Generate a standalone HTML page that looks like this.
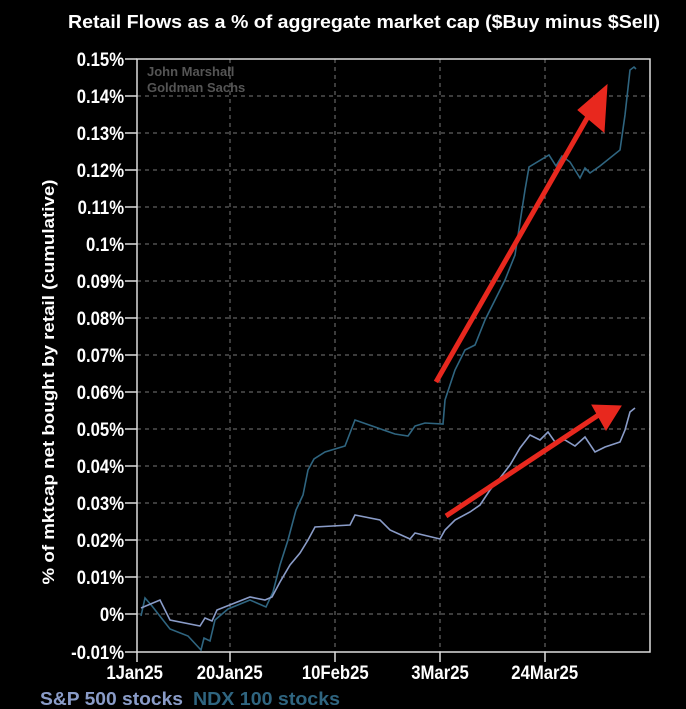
<!DOCTYPE html>
<html><head><meta charset="utf-8"><style>
html,body{margin:0;padding:0;background:#000;}
svg{display:block;font-family:"Liberation Sans",Arial,sans-serif;}
</style></head><body>
<svg width="686" height="709" viewBox="0 0 686 709" xmlns="http://www.w3.org/2000/svg">
<rect width="686" height="709" fill="#000"/>
<text x="68" y="28" fill="#fff" font-size="18" font-weight="bold" textLength="592" lengthAdjust="spacingAndGlyphs">Retail Flows as a % of aggregate market cap ($Buy minus $Sell)</text>
<g stroke="#777" stroke-width="1" stroke-dasharray="4,4">
<line x1="137" y1="96" x2="650" y2="96"/><line x1="137" y1="133" x2="650" y2="133"/><line x1="137" y1="170" x2="650" y2="170"/><line x1="137" y1="207" x2="650" y2="207"/><line x1="137" y1="244" x2="650" y2="244"/><line x1="137" y1="281" x2="650" y2="281"/><line x1="137" y1="318" x2="650" y2="318"/><line x1="137" y1="355" x2="650" y2="355"/><line x1="137" y1="392" x2="650" y2="392"/><line x1="137" y1="429" x2="650" y2="429"/><line x1="137" y1="466" x2="650" y2="466"/><line x1="137" y1="503" x2="650" y2="503"/><line x1="137" y1="540" x2="650" y2="540"/><line x1="137" y1="577" x2="650" y2="577"/><line x1="137" y1="614" x2="650" y2="614"/>
<line x1="230" y1="59" x2="230" y2="652"/><line x1="335" y1="59" x2="335" y2="652"/><line x1="440" y1="59" x2="440" y2="652"/><line x1="545" y1="59" x2="545" y2="652"/>
</g>
<rect x="137" y="59" width="513" height="593" fill="none" stroke="#ddd" stroke-width="1.5"/>
<g stroke="#ddd" stroke-width="1.5">
<line x1="125" y1="59" x2="137" y2="59"/><line x1="125" y1="96" x2="137" y2="96"/><line x1="125" y1="133" x2="137" y2="133"/><line x1="125" y1="170" x2="137" y2="170"/><line x1="125" y1="207" x2="137" y2="207"/><line x1="125" y1="244" x2="137" y2="244"/><line x1="125" y1="281" x2="137" y2="281"/><line x1="125" y1="318" x2="137" y2="318"/><line x1="125" y1="355" x2="137" y2="355"/><line x1="125" y1="392" x2="137" y2="392"/><line x1="125" y1="429" x2="137" y2="429"/><line x1="125" y1="466" x2="137" y2="466"/><line x1="125" y1="503" x2="137" y2="503"/><line x1="125" y1="540" x2="137" y2="540"/><line x1="125" y1="577" x2="137" y2="577"/><line x1="125" y1="614" x2="137" y2="614"/><line x1="125" y1="652" x2="137" y2="652"/>
<line x1="137" y1="652" x2="137" y2="662"/><line x1="230" y1="652" x2="230" y2="662"/><line x1="335" y1="652" x2="335" y2="662"/><line x1="440" y1="652" x2="440" y2="662"/><line x1="545" y1="652" x2="545" y2="662"/>
</g>
<g fill="#fff" font-size="19" font-weight="bold" text-anchor="end" transform="scale(0.88,1)">
<text x="141" y="66">0.15%</text><text x="141" y="103">0.14%</text><text x="141" y="140">0.13%</text><text x="141" y="177">0.12%</text><text x="141" y="214">0.11%</text><text x="141" y="251">0.1%</text><text x="141" y="288">0.09%</text><text x="141" y="325">0.08%</text><text x="141" y="362">0.07%</text><text x="141" y="399">0.06%</text><text x="141" y="436">0.05%</text><text x="141" y="473">0.04%</text><text x="141" y="510">0.03%</text><text x="141" y="547">0.02%</text><text x="141" y="584">0.01%</text><text x="141" y="621">0%</text><text x="141" y="659">-0.01%</text>
</g>
<g fill="#fff" font-size="19" font-weight="bold" text-anchor="middle" transform="scale(0.88,1)">
<text x="153" y="679">1Jan25</text><text x="261" y="679">20Jan25</text><text x="381" y="679">10Feb25</text><text x="500" y="679">3Mar25</text><text x="619" y="679">24Mar25</text>
</g>
<text transform="translate(54,382) rotate(-90)" fill="#fff" font-size="17" font-weight="bold" text-anchor="middle" textLength="405" lengthAdjust="spacingAndGlyphs">% of mktcap net bought by retail (cumulative)</text>
<text x="147" y="76" fill="#555" font-size="13" font-weight="bold">John Marshall</text>
<text x="147" y="92" fill="#555" font-size="13" font-weight="bold">Goldman Sachs</text>
<polyline fill="none" stroke="#2f6580" stroke-width="1.6" points="141,616 145,598 152,606 170,629 188,636 201,650 204,638 210,641 215,620 228,609 250,600 266,607 273,592 280,565 288,540 296,510 303,495 308,470 314,459 325,452 345,446 355,420 375,427 395,434 408,436 415,426 425,423 443,424 445,400 455,370 465,350 475,345 485,320 495,300 505,280 515,255 525,190 529,167 549,155 556,166 562,156 570,162 580,178 585,168 590,173 600,166 620,150 625,115 630,70 634,67 636,69"/>
<polyline fill="none" stroke="#8a9cc8" stroke-width="1.6" points="141,608 160,600 170,620 200,626 205,618 212,621 217,610 250,597 265,600 272,597 280,582 290,565 300,553 308,540 315,527 350,525 355,515 380,520 390,530 410,539 415,533 440,539 445,530 455,520 470,512 480,505 490,490 500,478 510,465 520,448 530,435 540,440 548,432 555,442 565,440 575,446 585,437 595,452 605,447 620,442 625,430 630,412 635,408"/>
<g fill="#e8281e" stroke="#e8281e">
<line x1="436" y1="382" x2="590" y2="113" stroke-width="5"/>
<polygon points="607,85 604,132 578,110" stroke-width="1"/>
<line x1="446" y1="516" x2="600" y2="414" stroke-width="5"/>
<polygon points="621,406 606,430 592,405" stroke-width="1"/>
</g>
<text x="40" y="705" fill="#8a9cc8" font-size="18" font-weight="bold" textLength="143" lengthAdjust="spacingAndGlyphs">S&amp;P 500 stocks</text>
<text x="193" y="705" fill="#2f6580" font-size="18" font-weight="bold" textLength="147" lengthAdjust="spacingAndGlyphs">NDX 100 stocks</text>
</svg>
</body></html>
